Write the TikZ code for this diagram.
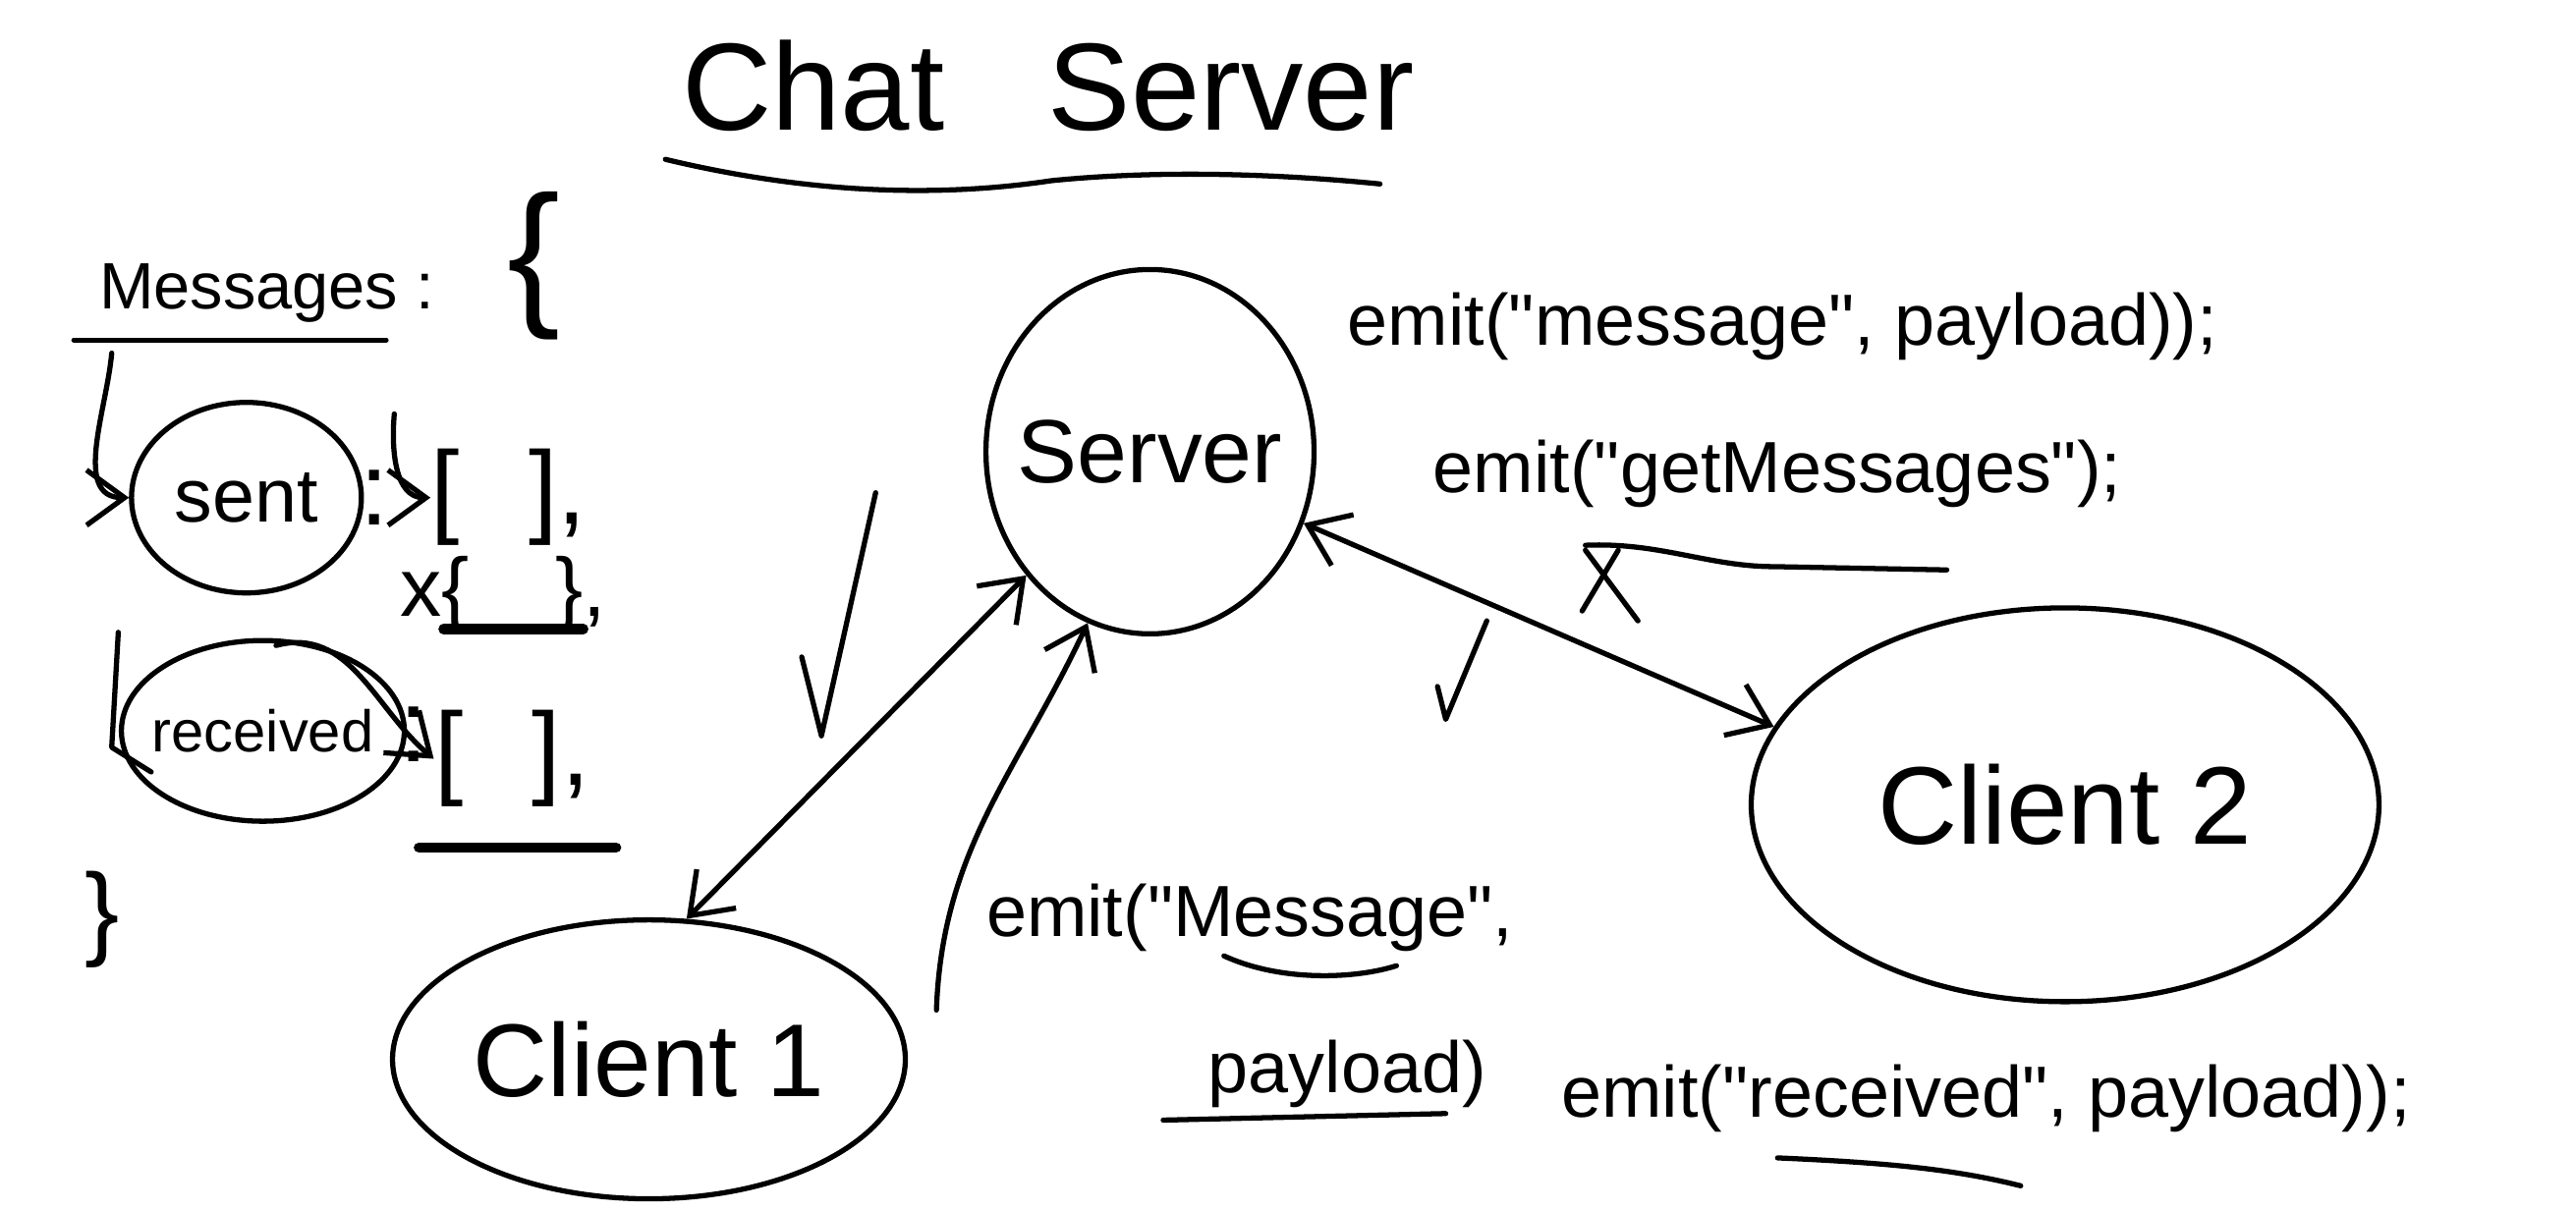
\documentclass[tikz,border=0pt]{standalone}
\usepackage{fontspec}
\setmainfont{Liberation Sans}
\usetikzlibrary{arrows.meta,shapes.geometric}
\newcommand{\qq}{\textquotedbl}
\newcommand{\ctr}[1]{\makebox[0pt]{#1}}
\begin{document}
\begin{tikzpicture}[x=0.01672cm,y=-0.01672cm,
  ink/.style={line width=1.5pt, line cap=round, line join=round},
  arr/.style={ink,-{Straight Barb[length=11pt,width=16pt]}},
  darr/.style={ink,{Straight Barb[length=11pt,width=16pt]}-{Straight Barb[length=11pt,width=16pt]}},
  bubble/.style={draw, ellipse, ink, inner sep=0pt},
  lbl/.style={inner sep=0pt},
  titlefont/.style={font=\fontsize{36}{40}\selectfont},
  codefont/.style={font=\fontsize{21}{24}\selectfont},
  leftfont/.style={font=\fontsize{19}{22}\selectfont},
  brfont/.style={font=\fontsize{30}{34}\selectfont},
]
\useasboundingbox (0,0) rectangle (1568,737);

% title
\node[lbl, titlefont] (title) at (638,52) {Chat\hspace{30pt}Server};
\draw[ink] (405,97) .. controls (480,115) and (560,122) .. (640,110) .. controls (720,102) and (800,108) .. (840,112);

% left column: Messages object
\node[lbl, leftfont, anchor=base west] (msg) at (60,188) {Messages :};
\node[lbl, font=\fontsize{46}{50}\selectfont] (ob) at (325,162) {\{};
\draw[ink] (45,207) -- (235,207);
\coordinate (mstart) at (68,215);

\node[bubble, minimum width=2.34cm, minimum height=1.94cm, font=\fontsize{22}{26}\selectfont] (sent) at (150,303) {\ctr{sent}};
\node[lbl, brfont] (scol) at (228,303) {:};
\node[lbl, brfont, anchor=west] (sarr) at (262,303) {[\hspace{20pt}],};
\node[lbl, font=\fontsize{24}{28}\selectfont, anchor=west] (xobj) at (243,362) {x\{\hspace{25pt}\},};
\draw[ink, line width=3pt] (270,383) -- (355,383);

\node[bubble, minimum width=2.88cm, minimum height=1.84cm, font=\fontsize{17}{20}\selectfont] (recv) at (160,445) {\ctr{received}};
\node[lbl, brfont] (rcol) at (252,447) {:};
\node[lbl, brfont, anchor=west] (rarr) at (264,462) {[\hspace{20pt}],};
\draw[ink, line width=3pt] (255,516) -- (375,516);
\node[lbl, brfont] (cb) at (62,560) {\}};
\draw[ink] (72,385) -- (68,455) -- (92,470);

\coordinate (shook) at (240,252);
\coordinate (rstart) at (168,393);
\draw[arr] (mstart) to[out=-95,in=180] (sent.west);
\draw[arr] (shook) to[out=-95,in=180] (sarr.west);
\draw[arr] (rstart) to[out=15,in=140] (rarr.west);

% main bubbles
\node[bubble, minimum width=3.34cm, minimum height=3.71cm, font=\fontsize{26}{30}\selectfont] (srv) at (700,275) {\ctr{Server}};
\node[bubble, minimum width=5.22cm, minimum height=2.84cm, font=\fontsize{30}{34}\selectfont] (c1) at (395,645) {\ctr{Client 1}};
\node[bubble, minimum width=6.39cm, minimum height=4.01cm, font=\fontsize{32}{36}\selectfont] (c2) at (1257,490) {\ctr{Client 2}};

% connectors
\draw[darr] (c1.75) -- (srv.225);
\coordinate (c1up) at (570,615);
\draw[arr] (c1up) to[out=88,in=-115] (srv.250);
\draw[darr] (srv.-25) -- (c2.165);

% check marks and cross
\draw[ink] (488,400) -- (500,448) -- (533,300);
\draw[ink] (875,418) -- (880,438) -- (905,378);
\draw[ink] (965,335) -- (997,378);
\draw[ink] (985,335) -- (963,372);

% emit texts
\node[lbl, codefont, anchor=base west] (e1) at (820,210) {emit(\qq message\qq, payload));};
\node[lbl, codefont, anchor=base west] (e2) at (872,300) {emit(\qq getMessages\qq);};
\draw[ink] (965,332) .. controls (1010,330) and (1040,345) .. (1080,345) -- (1185,347);

\node[lbl, codefont, anchor=base west] (e3) at (600,570) {emit(\qq Message\qq,};
\draw[ink] (745,582) .. controls (780,598) and (825,596) .. (850,588);
\node[lbl, codefont, anchor=base west] (e4) at (735,665) {payload)};
\draw[ink] (708,682) -- (880,678);

\node[lbl, codefont, anchor=base west] (e5) at (950,680) {emit(\qq received\qq, payload));};
\draw[ink] (1082,705) .. controls (1150,708) and (1190,712) .. (1230,722);
\end{tikzpicture}
\end{document}
